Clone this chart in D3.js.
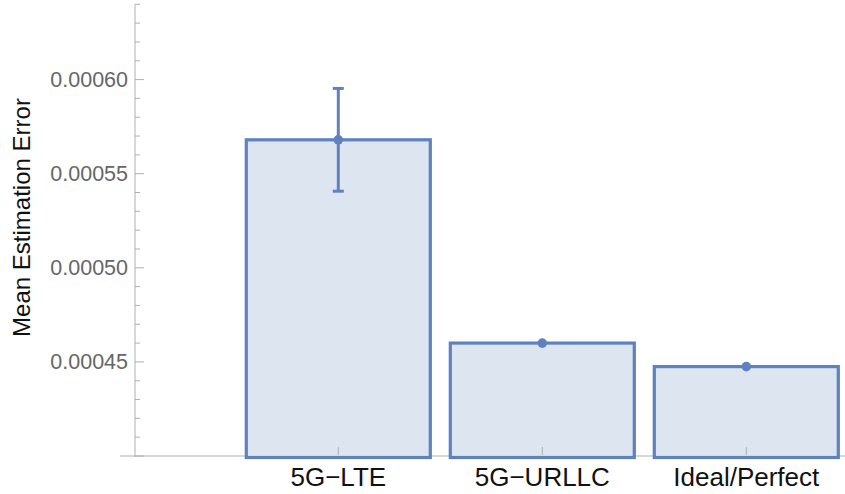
<!DOCTYPE html>
<html>
<head>
<meta charset="utf-8">
<script src="https://cdn.jsdelivr.net/npm/d3@7"></script>
<style>
  html, body { margin: 0; padding: 0; background: #fff; }
  svg { display: block; font-family: "Liberation Sans", Arial, sans-serif; }
</style>
</head>
<body>
<svg id="chart" width="845" height="494"></svg>
<script>
// ---- data ----
const categories = ["5G\u2212LTE", "5G\u2212URLLC", "Ideal/Perfect"];
const meanError = [0.000568, 0.000460, 0.0004475];
const errorHalfWidth = [0.0000273, 0.0000008, 0.0000003];
const yMajorTicks = [0.00045, 0.00050, 0.00055, 0.00060];
const yTickLabels = ["0.00045", "0.00050", "0.00055", "0.00060"];
const yDomain = [0.0004, 0.00064];
const yTitle = "Mean Estimation Error";

// ---- layout ----
const svg = d3.select("#chart");
const axisX = 135, axisY = 456, topY = 4.3;
const strokeCol = "#5f82be", fillCol = "#dde5f0", axisCol = "#b0b0b0", tickTextCol = "#666666";

const y = d3.scaleLinear().domain(yDomain).range([axisY, topY]);
const x = d3.scaleBand().domain(categories).range([236.3, 848.3])
  .paddingInner(0.098).paddingOuter(0.049);

// horizontal axis line
svg.append("line").attr("x1", 120).attr("x2", 845).attr("y1", axisY).attr("y2", axisY)
  .attr("stroke", axisCol).attr("stroke-width", 1);

// vertical axis line
svg.append("line").attr("x1", axisX).attr("x2", axisX).attr("y1", y(yDomain[1])).attr("y2", axisY + 1)
  .attr("stroke", axisCol).attr("stroke-width", 1);

// minor ticks (every 0.00001)
const minorTicks = d3.range(0, 25).map(i => yDomain[0] + i * 0.00001);
svg.append("g").selectAll("line").data(minorTicks).join("line")
  .attr("x1", axisX).attr("x2", d => {
    const isMajor = Math.abs(Math.round(d / 0.00005) * 0.00005 - d) < 1e-9;
    return axisX + (isMajor ? 9 : 5);
  })
  .attr("y1", d => y(d)).attr("y2", d => y(d))
  .attr("stroke", axisCol).attr("stroke-width", 1);

// major tick labels
svg.append("g").selectAll("text").data(yMajorTicks).join("text")
  .attr("x", 128).attr("y", d => y(d))
  .attr("dy", "0.35em")
  .attr("text-anchor", "end")
  .attr("font-size", 21.5)
  .attr("fill", tickTextCol)
  .text((d, i) => yTickLabels[i]);

// y title
svg.append("text")
  .attr("transform", `translate(30,${(97 + 338) / 2}) rotate(-90)`)
  .attr("text-anchor", "middle")
  .attr("font-size", 24)
  .attr("fill", "#111")
  .text(yTitle);

// bars
svg.append("g").selectAll("rect").data(categories).join("rect")
  .attr("x", d => x(d))
  .attr("y", (d, i) => y(meanError[i]))
  .attr("width", x.bandwidth())
  .attr("height", (d, i) => axisY - y(meanError[i]) + 1.5)
  .attr("fill", fillCol)
  .attr("stroke", strokeCol)
  .attr("stroke-width", 3.2);

// category ticks (inside bars, small upward)
svg.append("g").selectAll("line").data(categories).join("line")
  .attr("x1", d => x(d) + x.bandwidth() / 2).attr("x2", d => x(d) + x.bandwidth() / 2)
  .attr("y1", axisY - 9).attr("y2", axisY - 1)
  .attr("stroke", axisCol).attr("stroke-width", 1);

// error bars
const eb = svg.append("g");
categories.forEach((c, i) => {
  const cx = x(c) + x.bandwidth() / 2;
  const lo = y(meanError[i] - errorHalfWidth[i]);
  const hi = y(meanError[i] + errorHalfWidth[i]);
  eb.append("line").attr("x1", cx).attr("x2", cx).attr("y1", hi).attr("y2", lo)
    .attr("stroke", strokeCol).attr("stroke-width", 3);
  if (errorHalfWidth[i] > 0.000005) {
    [hi, lo].forEach(yy => {
      eb.append("line").attr("x1", cx - 5.5).attr("x2", cx + 5.5).attr("y1", yy).attr("y2", yy)
        .attr("stroke", strokeCol).attr("stroke-width", 3);
    });
  }
  eb.append("circle").attr("cx", cx).attr("cy", y(meanError[i])).attr("r", 4.8)
    .attr("fill", strokeCol);
});

// category labels
svg.append("g").selectAll("text").data(categories).join("text")
  .attr("x", d => x(d) + x.bandwidth() / 2)
  .attr("y", 486)
  .attr("text-anchor", "middle")
  .attr("font-size", 26)
  .attr("fill", "#111")
  .text(d => d);
</script>
</body>
</html>
